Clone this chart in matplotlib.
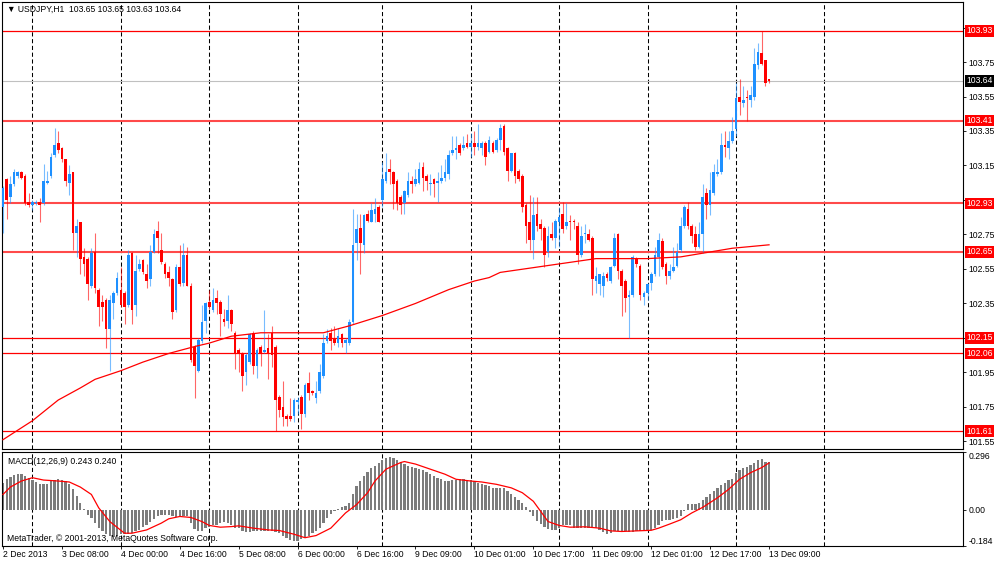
import matplotlib
matplotlib.use("Agg")
import numpy as np
import matplotlib.pyplot as plt

plt.rcParams["font.family"] = ["Liberation Sans", "DejaVu Sans"]
plt.rcParams["font.size"] = 6.2
plt.rcParams["axes.linewidth"] = 0.8

# USDJPY H1 bars (2 Dec 16:00 .. 13 Dec 09:00)
opens = [
    102.91, 103.07, 102.97, 103.04, 103.09, 103.11, 103.09, 102.94, 102.92, 102.93,
    102.94, 102.93, 103.05, 103.09, 103.21, 103.28, 103.25, 103.19, 103.05, 103.11,
    102.76, 102.82, 102.62, 102.61, 102.45, 102.65, 102.43, 102.36, 102.37, 102.20,
    102.35, 102.41, 102.43, 102.41, 102.34, 102.64, 102.34, 102.55, 102.60, 102.52,
    102.49, 102.65, 102.77, 102.66, 102.58, 102.53, 102.49, 102.31, 102.56, 102.47,
    102.63, 102.45, 102.10, 101.96, 102.13, 102.25, 102.36, 102.31, 102.38, 102.36,
    102.26, 102.25, 102.31, 102.18, 102.08, 102.06, 101.95, 102.01, 102.18, 101.99,
    102.10, 102.07, 102.09, 102.18, 102.10, 101.81, 101.75, 101.70, 101.70, 101.70,
    101.78, 101.81, 101.71, 101.89, 101.84, 101.80, 101.84, 101.93, 102.13, 102.18,
    102.15, 102.12, 102.17, 102.12, 102.12, 102.24, 102.70, 102.79, 102.69, 102.87,
    102.82, 102.87, 102.91, 102.95, 103.06, 103.13, 103.11, 103.06, 102.97, 102.93,
    102.98, 103.06, 103.04, 103.05, 103.14, 103.09, 103.04, 103.07, 103.05, 103.06,
    103.08, 103.10, 103.22, 103.24, 103.27, 103.25, 103.28, 103.26, 103.28, 103.26,
    103.25, 103.28, 103.23, 103.28, 103.24, 103.30, 103.38, 103.25, 103.12, 103.22,
    103.12, 103.09, 102.92, 102.82, 102.72, 102.87, 102.81, 102.79, 102.65, 102.75,
    102.73, 102.82, 102.87, 102.80, 102.83, 102.83, 102.80, 102.63, 102.75, 102.75,
    102.73, 102.48, 102.46, 102.45, 102.52, 102.48, 102.57, 102.75, 102.54, 102.48,
    102.39, 102.40, 102.61, 102.57, 102.39, 102.41, 102.47, 102.52, 102.62, 102.71,
    102.58, 102.51, 102.54, 102.57, 102.66, 102.80, 102.90, 102.80, 102.75, 102.68,
    102.75, 102.99, 102.92, 102.99, 103.10, 103.11, 103.27, 103.25, 103.29, 103.36,
    103.55, 103.51, 103.55, 103.53, 103.55, 103.73, 103.80, 103.76, 103.65,
]
highs = [
    103.03, 103.08, 103.09, 103.13, 103.12, 103.12, 103.10, 102.99, 102.95, 102.95,
    102.96, 103.16, 103.12, 103.22, 103.37, 103.35, 103.26, 103.19, 103.15, 103.11,
    102.84, 102.82, 102.67, 102.62, 102.67, 102.76, 102.44, 102.40, 102.38, 102.40,
    102.42, 102.53, 102.56, 102.42, 102.66, 102.65, 102.63, 102.61, 102.61, 102.58,
    102.69, 102.78, 102.83, 102.76, 102.59, 102.57, 102.50, 102.58, 102.69, 102.70,
    102.68, 102.47, 102.11, 102.15, 102.34, 102.36, 102.43, 102.44, 102.43, 102.37,
    102.32, 102.40, 102.32, 102.19, 102.09, 102.07, 102.06, 102.18, 102.19, 102.09,
    102.11, 102.31, 102.17, 102.22, 102.11, 101.82, 101.90, 101.71, 101.80, 101.80,
    101.81, 101.82, 101.89, 101.95, 101.85, 101.90, 102.00, 102.17, 102.20, 102.21,
    102.22, 102.21, 102.18, 102.15, 102.26, 102.90, 102.87, 102.87, 102.87, 102.89,
    102.93, 102.96, 102.92, 103.17, 103.22, 103.19, 103.12, 103.07, 102.98, 103.01,
    103.11, 103.09, 103.13, 103.17, 103.17, 103.10, 103.10, 103.08, 103.11, 103.15,
    103.19, 103.24, 103.32, 103.32, 103.28, 103.32, 103.33, 103.34, 103.35, 103.39,
    103.29, 103.29, 103.32, 103.29, 103.31, 103.39, 103.39, 103.26, 103.22, 103.23,
    103.13, 103.10, 102.93, 102.98, 102.97, 102.97, 102.84, 102.80, 102.80, 102.82,
    102.84, 102.91, 102.94, 102.93, 102.86, 102.84, 102.82, 102.80, 102.81, 102.78,
    102.74, 102.56, 102.52, 102.53, 102.53, 102.57, 102.76, 102.76, 102.55, 102.49,
    102.43, 102.63, 102.62, 102.58, 102.42, 102.47, 102.53, 102.68, 102.76, 102.73,
    102.59, 102.58, 102.68, 102.70, 102.85, 102.92, 102.94, 102.81, 102.80, 102.82,
    103.04, 103.02, 103.11, 103.16, 103.19, 103.34, 103.35, 103.35, 103.43, 103.63,
    103.65, 103.61, 103.59, 103.61, 103.83, 103.86, 103.93, 103.76, 103.65,
]
lows = [
    102.76, 102.84, 102.93, 103.03, 103.08, 103.07, 102.92, 102.91, 102.89, 102.92,
    102.82, 102.92, 103.04, 103.08, 103.20, 103.22, 103.17, 103.03, 102.98, 102.66,
    102.62, 102.52, 102.51, 102.37, 102.44, 102.41, 102.22, 102.25, 102.09, 101.96,
    102.26, 102.40, 102.33, 102.23, 102.33, 102.23, 102.28, 102.54, 102.52, 102.44,
    102.45, 102.64, 102.64, 102.58, 102.50, 102.45, 102.26, 102.30, 102.45, 102.45,
    102.45, 102.01, 101.80, 101.95, 102.12, 102.18, 102.32, 102.30, 102.29, 102.16,
    102.22, 102.21, 102.19, 101.97, 101.95, 101.84, 101.88, 102.00, 101.94, 101.92,
    101.99, 102.06, 101.91, 101.98, 101.61, 101.69, 101.64, 101.64, 101.67, 101.66,
    101.71, 101.62, 101.69, 101.79, 101.82, 101.77, 101.83, 101.92, 102.12, 102.08,
    102.11, 102.10, 102.10, 102.06, 102.11, 102.23, 102.60, 102.52, 102.64, 102.82,
    102.82, 102.82, 102.82, 102.91, 103.05, 103.04, 102.90, 102.89, 102.87, 102.87,
    102.97, 102.99, 103.03, 103.04, 103.00, 103.01, 102.98, 102.97, 102.94, 103.05,
    103.06, 103.07, 103.21, 103.19, 103.21, 103.24, 103.25, 103.20, 103.21, 103.24,
    103.21, 103.15, 103.22, 103.22, 103.23, 103.24, 103.21, 103.06, 103.11, 103.05,
    103.06, 102.88, 102.70, 102.66, 102.61, 102.77, 102.72, 102.56, 102.62, 102.72,
    102.67, 102.68, 102.76, 102.78, 102.72, 102.78, 102.58, 102.62, 102.70, 102.71,
    102.40, 102.41, 102.40, 102.39, 102.48, 102.47, 102.56, 102.49, 102.28, 102.30,
    102.15, 102.39, 102.56, 102.37, 102.34, 102.37, 102.43, 102.51, 102.51, 102.55,
    102.46, 102.49, 102.53, 102.56, 102.65, 102.79, 102.78, 102.70, 102.66, 102.67,
    102.64, 102.84, 102.86, 102.98, 103.09, 103.10, 103.20, 103.19, 103.28, 103.32,
    103.44, 103.49, 103.41, 103.49, 103.53, 103.71, 103.73, 103.61, 103.63,
]
closes = [
    103.02, 102.95, 103.04, 103.11, 103.11, 103.08, 102.93, 102.92, 102.94, 102.94,
    102.92, 103.06, 103.06, 103.20, 103.27, 103.24, 103.19, 103.06, 103.10, 102.76,
    102.80, 102.61, 102.58, 102.46, 102.64, 102.44, 102.33, 102.33, 102.20, 102.37,
    102.41, 102.50, 102.34, 102.33, 102.63, 102.31, 102.54, 102.58, 102.53, 102.48,
    102.65, 102.75, 102.73, 102.59, 102.52, 102.50, 102.30, 102.56, 102.46, 102.63,
    102.45, 102.02, 101.99, 102.14, 102.24, 102.35, 102.33, 102.37, 102.35, 102.29,
    102.24, 102.31, 102.23, 102.06, 102.06, 101.93, 102.05, 102.17, 101.99, 102.08,
    102.06, 102.08, 102.06, 102.05, 101.79, 101.73, 101.69, 101.68, 101.68, 101.79,
    101.79, 101.71, 101.88, 101.83, 101.83, 101.83, 101.95, 102.12, 102.16, 102.13,
    102.12, 102.16, 102.12, 102.14, 102.24, 102.69, 102.78, 102.70, 102.86, 102.83,
    102.89, 102.90, 102.82, 103.07, 103.11, 103.11, 103.04, 102.93, 102.92, 103.00,
    103.06, 103.04, 103.07, 103.13, 103.08, 103.06, 103.05, 103.04, 103.06, 103.08,
    103.11, 103.21, 103.24, 103.25, 103.22, 103.27, 103.26, 103.28, 103.26, 103.28,
    103.28, 103.20, 103.30, 103.23, 103.30, 103.37, 103.23, 103.12, 103.22, 103.09,
    103.07, 102.91, 102.80, 102.72, 102.86, 102.80, 102.78, 102.63, 102.74, 102.73,
    102.83, 102.85, 102.78, 102.82, 102.82, 102.82, 102.63, 102.74, 102.76, 102.72,
    102.49, 102.51, 102.52, 102.51, 102.50, 102.56, 102.73, 102.54, 102.45, 102.38,
    102.40, 102.62, 102.58, 102.40, 102.41, 102.46, 102.52, 102.63, 102.72, 102.56,
    102.51, 102.54, 102.56, 102.65, 102.80, 102.91, 102.80, 102.74, 102.68, 102.75,
    102.97, 102.92, 103.01, 103.11, 103.11, 103.27, 103.26, 103.29, 103.35, 103.54,
    103.52, 103.53, 103.54, 103.56, 103.74, 103.81, 103.74, 103.63, 103.64,
]

# red moving average, read at a few bars
ma_bars = [0, 8, 15, 21, 25, 32, 38, 45, 52, 56, 62, 70, 87, 94, 103, 112, 121,
           128, 132, 135, 148, 161, 175, 184, 198, 208]
ma_values = [101.56, 101.67, 101.79, 101.86, 101.91, 101.96, 102.01, 102.06,
             102.10, 102.12, 102.16, 102.18, 102.18, 102.22, 102.28, 102.35,
             102.43, 102.48, 102.50, 102.53, 102.57, 102.61, 102.61, 102.62,
             102.67, 102.69]

# MACD(12,26,9) histogram (main line) per bar
macd_main = [
    0.138, 0.156, 0.168, 0.178, 0.182, 0.182, 0.173, 0.164, 0.152, 0.142,
    0.130, 0.130, 0.133, 0.147, 0.154, 0.157, 0.154, 0.147, 0.133, 0.104,
    0.069, 0.035, 0.003, -0.026, -0.043, -0.069, -0.095, -0.112, -0.126, -0.133,
    -0.138, -0.133, -0.126, -0.126, -0.126, -0.121, -0.112, -0.104, -0.090, -0.078,
    -0.064, -0.047, -0.035, -0.029, -0.026, -0.029, -0.035, -0.038, -0.035, -0.031,
    -0.035, -0.069, -0.099, -0.109, -0.109, -0.095, -0.087, -0.081, -0.081, -0.069,
    -0.064, -0.069, -0.078, -0.092, -0.095, -0.112, -0.116, -0.116, -0.112, -0.112,
    -0.112, -0.109, -0.109, -0.112, -0.116, -0.121, -0.133, -0.144, -0.156, -0.161,
    -0.161, -0.151, -0.144, -0.133, -0.121, -0.109, -0.092, -0.069, -0.043, -0.022,
    -0.009, 0.005, 0.012, 0.017, 0.035, 0.078, 0.121, 0.147, 0.173, 0.195,
    0.213, 0.225, 0.237, 0.254, 0.265, 0.268, 0.265, 0.254, 0.247,
    0.234, 0.225, 0.220, 0.213, 0.208, 0.202, 0.195, 0.185, 0.173, 0.164,
    0.156, 0.147, 0.147, 0.152, 0.152, 0.156, 0.156, 0.152, 0.151, 0.147,
    0.138, 0.133, 0.126, 0.121, 0.112, 0.109, 0.109, 0.112, 0.095, 0.078,
    0.064, 0.052, 0.035, 0.012, -0.012, -0.035, -0.057, -0.074, -0.087, -0.099,
    -0.104, -0.104, -0.092, -0.081, -0.078, -0.081, -0.092, -0.095, -0.092, -0.095,
    -0.092, -0.088, -0.092, -0.104, -0.116, -0.123, -0.121, -0.112, -0.109, -0.109,
    -0.112, -0.116, -0.116, -0.112, -0.109, -0.106, -0.102, -0.102, -0.095, -0.078,
    -0.057, -0.052, -0.052, -0.048, -0.043, -0.035, -0.009, 0.029, 0.029, 0.029,
    0.033, 0.052, 0.064, 0.078, 0.095, 0.109, 0.126, 0.138, 0.151,
    0.159, 0.190, 0.202, 0.213, 0.220, 0.230, 0.242, 0.254, 0.260, 0.247, 0.243,
]
# MACD signal line, read at a few bars
signal_bars = [0, 2, 5, 8, 11, 15, 18, 21, 24, 26, 29, 33, 35, 39, 43, 45, 48, 51,
               54, 56, 59, 62, 64, 68, 72, 75, 79, 82, 85, 89, 93, 96, 99, 101, 104,
               108, 109, 112, 116, 120, 123, 127, 130, 134, 138, 141, 144, 146, 148,
               151, 154, 158, 162, 165, 168, 172, 176, 178, 181, 184, 187, 190, 194,
               197, 200, 203, 206, 208]
signal_values = [0.078, 0.116, 0.147, 0.164, 0.152, 0.147, 0.142, 0.116, 0.078,
                 0.009, -0.061, -0.121, -0.121, -0.104, -0.069, -0.047, -0.035,
                 -0.040, -0.061, -0.081, -0.090, -0.087, -0.083, -0.095, -0.104,
                 -0.107, -0.126, -0.144, -0.133, -0.095, -0.017, 0.026, 0.087,
                 0.147, 0.208, 0.242, 0.247, 0.234, 0.208, 0.182, 0.156, 0.147,
                 0.142, 0.130, 0.112, 0.087, 0.043, -0.009, -0.061, -0.081, -0.090,
                 -0.088, -0.095, -0.109, -0.112, -0.109, -0.106, -0.095, -0.074,
                 -0.052, -0.017, 0.012, 0.061, 0.104, 0.156, 0.190, 0.216, 0.240]

levels = [103.93, 103.41, 102.93, 102.65, 102.15, 102.06, 101.61]
thick_levels = [103.41, 102.93, 102.65]
last_price = 103.64
price_ticks = [101.55, 101.75, 101.95, 102.15, 102.35, 102.55, 102.75,
               102.95, 103.15, 103.35, 103.55, 103.75, 103.95]
# labels hidden behind the level boxes are left blank
hidden_ticks = [102.15, 102.95, 103.95]
macd_ticks = [-0.184, 0.0, 0.296]
macd_tick_labels = ["-0.184", "0.00", "0.296"]
time_bars = [0, 16, 32, 48, 64, 80, 96, 112, 128, 144, 160, 176, 192, 208]
time_labels = ["2 Dec 2013", "3 Dec 08:00", "4 Dec 00:00", "4 Dec 16:00",
               "5 Dec 08:00", "6 Dec 00:00", "6 Dec 16:00", "9 Dec 09:00",
               "10 Dec 01:00", "10 Dec 17:00", "11 Dec 09:00", "12 Dec 01:00",
               "12 Dec 17:00", "13 Dec 09:00"]
day_bars = [8, 32, 56, 80, 103, 127, 151, 175, 199, 223]

BLUE = "#1E90FF"
RED = "#FF0000"

o = np.array(opens)
h = np.array(highs)
l = np.array(lows)
c = np.array(closes)
idx = np.arange(len(o))
up = c >= o

W, H = 1000, 562
fig = plt.figure(figsize=(10, 5.62), dpi=100)
ax = fig.add_axes([2 / W, (H - 449) / H, 961 / W, 447 / H])
ax2 = fig.add_axes([2 / W, (H - 545.5) / H, 961 / W, 93.5 / H])

# levels and grid
for lv in levels:
    if lv in thick_levels:
        ax.axhline(lv, color="#FF4A4A", lw=1.5, zorder=1)
    else:
        ax.axhline(lv, color=RED, lw=0.9, zorder=1)
ax.axhline(last_price, color="#C0C0C0", lw=0.8, zorder=1)
for b in day_bars:
    for a in (ax, ax2):
        a.axvline(b, color="black", lw=0.75, ls=(0, (4, 2.5)), zorder=0)

# candles
ax.vlines(idx[up], l[up], h[up], color=BLUE, lw=0.8, alpha=0.6, zorder=3)
ax.vlines(idx[~up], l[~up], h[~up], color=RED, lw=0.8, alpha=0.6, zorder=3)
body = np.maximum(np.abs(c - o), 0.004)
ax.bar(idx, body, bottom=np.minimum(o, c), width=0.72,
       color=np.where(up, BLUE, RED), linewidth=0, zorder=4)
ax.plot(ma_bars, ma_values, color=RED, lw=0.9, zorder=5)

ax.set_xlim(-0.27, 260.66)
ax.set_ylim(101.506, 104.098)
ax.set_xticks([])
ax.yaxis.tick_right()
ax.set_yticks(price_ticks)
ax.set_yticklabels(["" if p in hidden_ticks else f"{p:.2f}" for p in price_ticks])
ax.tick_params(axis="y", length=2.2, width=0.6, pad=1.5, labelsize=6.2)

for lv in levels:
    ax.annotate(f"{lv:.2f}", xy=(1, lv), xycoords=("axes fraction", "data"),
                xytext=(3.5, 0), textcoords="offset pixels", ha="left", va="center",
                color="white", fontsize=6.2, annotation_clip=False, zorder=10,
                bbox=dict(boxstyle="square,pad=0.15", fc=RED, ec="none"))
ax.annotate(f"{last_price:.2f}", xy=(1, last_price), xycoords=("axes fraction", "data"),
            xytext=(3.5, 0), textcoords="offset pixels", ha="left", va="center",
            color="white", fontsize=6.2, annotation_clip=False, zorder=10,
            bbox=dict(boxstyle="square,pad=0.15", fc="black", ec="none"))

ax.annotate("\u25bc USDJPY,H1  103.65 103.65 103.63 103.64", xy=(0, 1),
            xycoords="axes fraction", xytext=(5, -7), textcoords="offset pixels",
            ha="left", va="center", fontsize=6.2)

# MACD panel
ax2.bar(idx, macd_main, width=0.62, color="#7C7C7C", linewidth=0, zorder=2)
ax2.plot(signal_bars, signal_values, color=RED, lw=0.9, zorder=3)
ax2.set_xlim(-0.27, 260.66)
ax2.set_ylim(-0.184, 0.296)
ax2.yaxis.tick_right()
ax2.set_yticks(macd_ticks)
ax2.set_yticklabels(macd_tick_labels)
ax2.tick_params(axis="y", length=2.2, width=0.6, pad=1.5, labelsize=6.2)
ylbls = ax2.get_yticklabels()
ylbls[0].set_va("bottom")
ylbls[2].set_va("top")
ax2.set_xticks(time_bars)
ax2.set_xticklabels(time_labels, ha="left")
ax2.tick_params(axis="x", length=2.5, width=0.6, pad=1.0, labelsize=6.2)

ax2.annotate("MACD(12,26,9) 0.243 0.240", xy=(0, 1), xycoords="axes fraction",
             xytext=(6, -10), textcoords="offset pixels", ha="left", va="center",
             fontsize=6.2)
ax2.annotate("MetaTrader, \u00a9 2001-2013, MetaQuotes Software Corp.", xy=(0, 0),
             xycoords="axes fraction", xytext=(5, 7), textcoords="offset pixels",
             ha="left", va="center", fontsize=6.2, zorder=6)

fig.savefig("out.png", dpi=100)
plt.close("all")
